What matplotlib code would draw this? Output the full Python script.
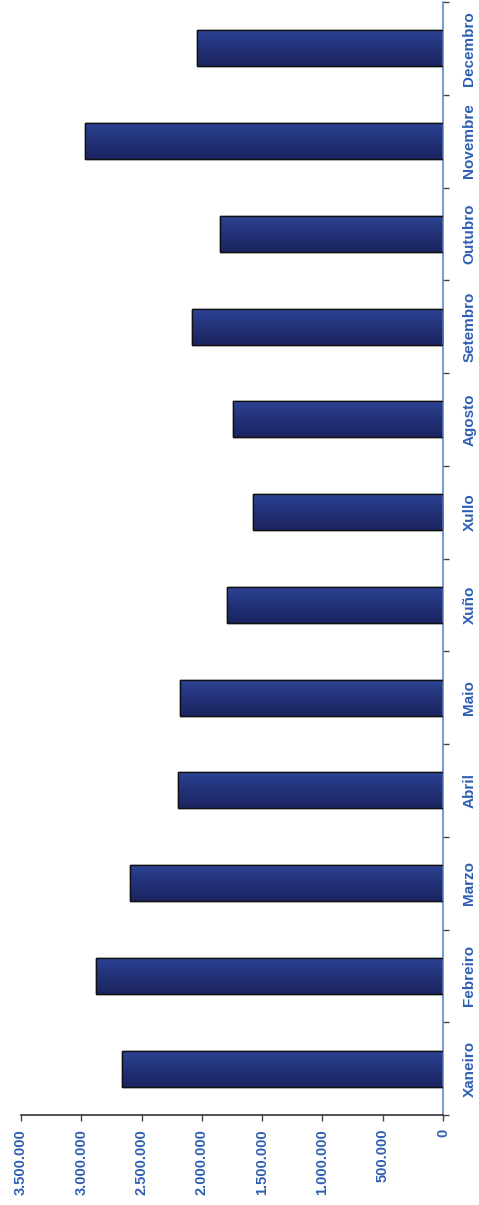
import numpy as np
import matplotlib
matplotlib.use("Agg")
import matplotlib.pyplot as plt
from matplotlib.colors import LinearSegmentedColormap
from matplotlib.ticker import FixedLocator, FuncFormatter

# monthly totals
months = ["Xaneiro", "Febreiro", "Marzo", "Abril", "Maio", "Xuño",
          "Xullo", "Agosto", "Setembro", "Outubro", "Novembre", "Decembro"]
values = [2662000, 2877000, 2595000, 2195000, 2180000, 1791000,
          1578000, 1739000, 2084000, 1849000, 2968000, 2040000]
value_ticks = [0, 500000, 1000000, 1500000, 2000000, 2500000, 3000000, 3500000]

LABEL_BLUE = "#2f5fb3"
AXIS_BLUE = "#5b8ad0"

plt.rcParams["font.family"] = ["Liberation Sans", "DejaVu Sans"]

fig = plt.figure(figsize=(4.79, 12.05), dpi=100)
ax = fig.add_axes([21 / 479, 90 / 1205, (443 - 21) / 479, (1115 - 2) / 1205])

pos = np.arange(len(months))
bars = ax.barh(pos, values, height=0.39, color="#25347a", edgecolor="#111111", linewidth=1.0, zorder=2)

# vertical shading inside each bar: lighter on top, darker below
grad = LinearSegmentedColormap.from_list("navy", ["#1b2460", "#233278", "#2d4496"])
shade = np.linspace(0, 1, 64).reshape(-1, 1)
for b in bars:
    x0, y0 = b.get_x(), b.get_y()
    im = ax.imshow(shade, cmap=grad, aspect="auto", origin="lower",
                   extent=(x0, x0 + b.get_width(), y0, y0 + b.get_height()), zorder=2.5)
    im.set_clip_path(b)
    ax.add_patch(plt.Rectangle((x0, y0), b.get_width(), b.get_height(), fill=False,
                               edgecolor="#111111", linewidth=1.0, zorder=3))

ax.set_xlim(3500000, 0)
ax.set_ylim(-0.5, len(months) - 0.5)

ax.xaxis.set_major_locator(FixedLocator(value_ticks))
ax.xaxis.set_major_formatter(FuncFormatter(lambda v, _: f"{int(v):,}".replace(",", ".")))
ax.tick_params(axis="x", direction="out", length=4, width=1, color="#444444", pad=6,
               labelsize=10.5, labelcolor=LABEL_BLUE, labelrotation=90)
for lbl in ax.get_xticklabels():
    lbl.set_fontweight("bold")

ax.yaxis.tick_right()
ax.set_yticks(pos)
ax.set_yticklabels(months, rotation=90, va="center", fontsize=11, fontweight="bold", color=LABEL_BLUE)
ax.set_yticks(np.arange(-0.5, len(months), 1.0), minor=True)
ax.tick_params(axis="y", which="major", length=0, pad=14)
ax.tick_params(axis="y", which="minor", direction="out", length=4, width=1, color="#444444")

for side in ("top", "left"):
    ax.spines[side].set_visible(False)
ax.spines["right"].set_color(AXIS_BLUE)
ax.spines["right"].set_linewidth(1.2)
ax.spines["bottom"].set_color("#333333")
ax.spines["bottom"].set_linewidth(1.2)

fig.savefig("out.png", dpi=100)
